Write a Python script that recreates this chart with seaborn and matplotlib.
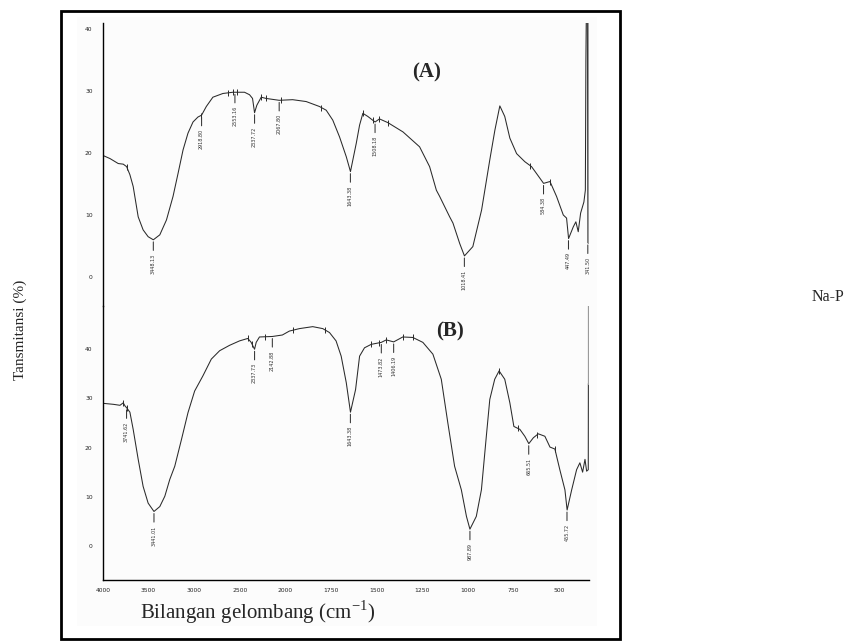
import numpy as np
import pandas as pd
import matplotlib
matplotlib.use("Agg")
import matplotlib.pyplot as plt
from matplotlib.patches import Rectangle
from matplotlib.ticker import FixedLocator, NullFormatter
import seaborn as sns

# ---- spectrum (A) ----
wn_a = [4000, 3923, 3833, 3778, 3741, 3705, 3669, 3614, 3560, 3505, 3448, 3377, 3304, 3232,
        3177, 3122, 3068, 3013, 2959, 2919, 2867, 2795, 2685, 2576, 2553, 2448, 2393, 2360,
        2338, 2313, 2265, 2211, 2068, 1960, 1886, 1813, 1776, 1740, 1703, 1666, 1643, 1611,
        1593, 1575, 1548, 1508, 1484, 1438, 1355, 1264, 1209, 1172, 1154, 1099, 1081, 1044,
        1018, 972, 924, 879, 851, 824, 797, 769, 732, 687, 650, 623, 584, 549, 513, 476,
        458, 447, 421, 407, 394, 381, 363, 355, 352, 349, 344, 341]
t_a = [19.6, 19.1, 18.3, 18.2, 17.8, 16.5, 14.6, 9.7, 7.6, 6.5, 6.0, 6.8, 9.2, 13.0,
       16.7, 20.5, 23.2, 25.0, 25.8, 26.1, 27.5, 29.0, 29.6, 29.8, 29.8, 29.8, 29.4, 28.8,
       26.5, 27.7, 29.0, 28.8, 28.5, 28.6, 28.3, 27.5, 26.9, 25.3, 22.6, 19.4, 17.0, 21.6,
       24.5, 26.4, 25.9, 25.0, 25.5, 24.9, 23.4, 21.0, 17.8, 14.0, 13.0, 9.7, 8.7, 5.4,
       3.4, 4.9, 10.8, 18.9, 23.7, 27.6, 25.9, 22.4, 19.9, 18.6, 17.8, 16.7, 15.1, 15.4, 13.0, 10.0,
       9.5, 6.2, 8.1, 8.9, 7.3, 10.3, 12.1, 14.0, 35.0, 45.0, 45.0, 5.5]
peaks_a = [3448.13, 2918.80, 2553.16, 2337.72, 2067.80, 1643.38, 1508.18, 1018.41,
           584.38, 447.49, 341.50]
picks_a = [3741, 2930, 2634, 2579, 2525, 2265, 2210, 2047, 1802, 1575, 1520, 1484, 1438,
           656, 549]

# ---- spectrum (B) ----
wn_b = [4000, 3887, 3814, 3778, 3760, 3741, 3705, 3669, 3614, 3560, 3505, 3441, 3377, 3322,
        3268, 3213, 3140, 3068, 2995, 2904, 2812, 2721, 2612, 2503, 2412, 2375, 2338, 2320,
        2284, 2142, 2033, 1978, 1923, 1850, 1795, 1758, 1722, 1694, 1666, 1643, 1615, 1593,
        1566, 1529, 1474, 1447, 1406, 1356, 1301, 1246, 1191, 1145, 1109, 1072, 1035, 1007,
        988, 953, 925, 898, 879, 852, 828, 797, 769, 747, 714, 687, 665, 640, 613, 577,
        549, 522, 495, 467, 455, 430, 403, 385, 370, 357, 348, 339, 338.5]
t_b = [29.0, 28.8, 28.6, 29.1, 28.5, 28.1, 27.2, 23.7, 17.6, 12.1, 8.7, 7.0, 8.0, 10.1,
       13.5, 16.2, 21.6, 27.1, 31.5, 34.6, 38.0, 39.7, 40.8, 41.7, 42.2, 41.4, 40.0, 41.4,
       42.5, 42.6, 42.9, 43.7, 44.2, 44.6, 44.2, 43.4, 41.7, 38.6, 33.2, 27.2, 31.8, 38.6,
       40.3, 41.0, 41.4, 41.9, 41.5, 42.5, 42.4, 41.4, 39.0, 33.9, 25.0, 16.2, 11.4, 6.0,
       3.4, 6.0, 11.4, 22.3, 29.8, 33.9, 35.6, 33.9, 29.1, 24.3, 23.7, 22.3, 20.8, 22.0, 22.8, 22.3,
       20.1, 19.7, 15.5, 11.4, 7.3, 11.4, 15.5, 16.9, 15.0, 17.6, 15.2, 15.5, 33.0]
peaks_b = [3741.62, 3441.01, 2337.73, 2142.88, 1643.38, 1473.82, 1406.19, 987.89,
           665.51, 455.72]
picks_b = [3778, 3735, 2412, 2365, 2222, 1960, 1782, 1529, 1484, 1450, 1356, 1301,
           828, 727, 619, 522]

x_major = [4000, 3500, 3000, 2500, 2000, 1750, 1500, 1250, 1000, 750, 500]
y_major = [0, 10, 20, 30, 40]

sns.set_style("white")
plt.rcParams["font.family"] = ["DejaVu Sans"]

W, H = 863, 641
fig = plt.figure(figsize=(W / 100, H / 100), dpi=100)


def px_rect(x0, y0, x1, y1):
    return [x0 / W, 1 - y1 / H, (x1 - x0) / W, (y1 - y0) / H]


# wavenumber axis compressed 2:1 above 2000 cm-1
def fwd(x):
    x = np.asarray(x, dtype=float)
    return np.where(x > 2000, 2000 + (x - 2000) / 2.0, x)


def inv(y):
    y = np.asarray(y, dtype=float)
    return np.where(y > 2000, 2000 + (y - 2000) * 2.0, y)


# faint plot-area background and outer frame
fig.patches.append(Rectangle((77 / W, 1 - 626 / H), 520 / W, 609 / H,
                             transform=fig.transFigure, facecolor="#fcfcfc",
                             edgecolor="none", zorder=-5))
fig.patches.append(Rectangle((61 / W, 1 - 639 / H), 559 / W, 628 / H,
                             transform=fig.transFigure, fill=False,
                             edgecolor="black", linewidth=2.0, zorder=5))

ax_a = fig.add_axes(px_rect(103, 23, 589, 306))
ax_b = fig.add_axes(px_rect(103, 306, 589, 580))

line_kw = dict(color="#2a2a2a", linewidth=0.75, sort=False, estimator=None)
sns.lineplot(data=pd.DataFrame({"wn": wn_a, "T": t_a}), x="wn", y="T", ax=ax_a, **line_kw)
sns.lineplot(data=pd.DataFrame({"wn": wn_b, "T": t_b}), x="wn", y="T", ax=ax_b, **line_kw)
ax_b.plot([wn_b[-1], wn_b[-1]], [t_b[-1], 60], color="#9a9a9a", linewidth=0.9)
ax_a.plot([338.6, 338.6], [5.5, 60], color="#9a9a9a", linewidth=0.9)


def curve_at(wn, t, w):
    wn = np.asarray(wn, dtype=float)[::-1]
    t = np.asarray(t, dtype=float)[::-1]
    return np.interp(w, wn, t)


# small pick marks sitting on the traces
for ax, wn, t, picks in ((ax_a, wn_a, t_a, picks_a), (ax_b, wn_b, t_b, picks_b)):
    ax.scatter(picks, curve_at(wn, t, picks), marker="|", s=22, linewidths=0.7,
               color="#2a2a2a", zorder=3)

for ax, lims, minors in ((ax_a, (-4.68, 40.97), np.arange(-4, 42, 2)),
                         (ax_b, (-6.94, 48.8), np.arange(-6, 49, 2))):
    ax.set_facecolor("none")
    ax.set_xscale("function", functions=(fwd, inv))
    ax.set_xlim(4000, 335)
    ax.set_ylim(*lims)
    ax.set_xlabel("")
    ax.set_ylabel("")
    ax.yaxis.set_major_locator(FixedLocator(y_major))
    ax.yaxis.set_minor_locator(FixedLocator(minors))
    ax.tick_params(axis="y", which="major", direction="out", length=5, width=0.8,
                   labelsize=4.3, pad=2.5, color="black", labelcolor="#222222")
    ax.tick_params(axis="y", which="minor", direction="out", length=2.5, width=0.7,
                   color="black")
    for s in ("top", "right"):
        ax.spines[s].set_visible(False)
    ax.spines["left"].set_linewidth(1.0)
    ax.spines["left"].set_color("black")

ax_a.spines["bottom"].set_visible(False)
ax_a.tick_params(axis="x", which="both", bottom=False, labelbottom=False)

x_minor = list(range(4000, 2000, -100)) + list(range(2000, 340, -50))
ax_b.xaxis.set_major_locator(FixedLocator(x_major))
ax_b.xaxis.set_minor_locator(FixedLocator(x_minor))
ax_b.xaxis.set_minor_formatter(NullFormatter())
ax_b.set_xticklabels([str(v) for v in x_major])
ax_b.spines["bottom"].set_linewidth(1.0)
ax_b.spines["bottom"].set_color("black")
ax_b.tick_params(axis="x", which="major", direction="out", length=3.5, width=0.8,
                 labelsize=4.3, pad=2, color="black", labelcolor="#222222")
ax_b.tick_params(axis="x", which="minor", direction="out", length=2, width=0.7,
                 color="black")


def label_peaks(ax, wn, t, peaks):
    wn = np.asarray(wn, dtype=float)
    t = np.asarray(t, dtype=float)
    for p in peaks:
        near = np.abs(wn - p) <= 4.5
        y = t[near].min() if near.any() else curve_at(wn, t, p)
        ax.annotate(f"{p:.2f}", xy=(p, y), xytext=(0, -10), textcoords="offset points",
                    rotation=90, ha="center", va="top", fontsize=3.5, color="#333333",
                    arrowprops=dict(arrowstyle="-", color="#333333", lw=0.75,
                                    shrinkA=0, shrinkB=1.5))


label_peaks(ax_a, wn_a, t_a, peaks_a)
label_peaks(ax_b, wn_b, t_b, peaks_b)

serif = ["Liberation Serif", "DejaVu Serif"]
fig.text(427 / W, 1 - 72 / H, "(A)", fontsize=15, fontweight="bold", family=serif,
         ha="center", va="center")
fig.text(450 / W, 1 - 331 / H, "(B)", fontsize=15, fontweight="bold", family=serif,
         ha="center", va="center")
plt.rcParams["mathtext.fontset"] = "custom"
plt.rcParams["mathtext.rm"] = "Liberation Serif"
fig.text(258 / W, 1 - 612 / H, r"Bilangan gelombang (cm$^{\mathregular{-1}}$)",
         fontsize=15, family=serif, ha="center", va="center")
fig.text(20 / W, 1 - 330 / H, "Tansmitansi (%)", fontsize=11, family=serif,
         rotation=90, ha="center", va="center")
fig.text(812 / W, 1 - 297 / H, "Na-P", fontsize=11.5, family=serif,
         ha="left", va="center")

fig.savefig("out.png", dpi=100)
